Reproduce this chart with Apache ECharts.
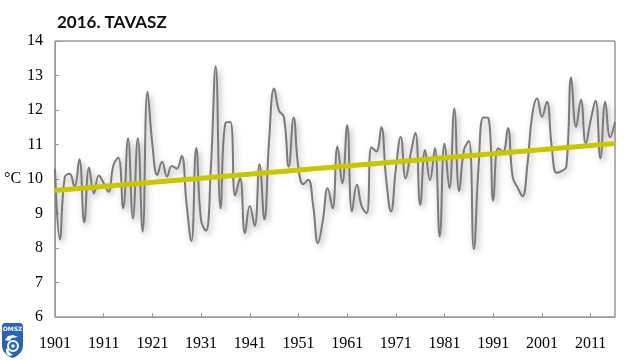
<!DOCTYPE html>
<html>
<head>
<meta charset="utf-8">
<script src="https://cdn.jsdelivr.net/npm/echarts@6/dist/echarts.min.js"></script>
<style>
html,body{margin:0;padding:0;background:#fff;}
#chart{width:640px;height:360px;}
</style>
</head>
<body>
<div id="chart"></div>
<script>
// Years 1901..2016
const firstYear = 1901;
const lastYear = 2016;
// Spring mean temperature (°C)
const temps = [
  10.3, 8.25, 10.05, 10.15, 9.78, 10.57, 8.74, 10.33, 9.58, 10.1,
  9.88, 9.63, 10.4, 10.62, 9.15, 11.18, 8.86, 11.18, 8.48, 12.53,
  11.0, 10.12, 10.5, 10.07, 10.38, 10.3, 10.67, 9.3, 8.2, 10.9,
  8.8, 8.5, 10.3, 13.27, 9.15, 11.62, 11.65, 9.52, 10.03, 8.43,
  9.22, 8.64, 10.43, 8.83, 11.2, 12.62, 11.98, 11.8, 10.36, 11.78,
  10.3, 9.85, 9.98, 9.25, 8.14, 8.8, 9.73, 9.15, 10.94, 9.88,
  11.56, 9.06, 9.83, 9.2, 9.01, 10.92, 10.8, 11.5, 10.0, 9.06,
  10.3, 11.22, 10.02, 10.7, 11.34, 9.25, 10.84, 9.97, 10.89, 8.33,
  11.03, 9.73, 12.04, 9.65, 10.85, 11.1, 7.97, 10.4, 11.78, 11.76,
  9.37, 10.89, 10.8, 11.47, 10.05, 9.75, 9.5, 10.4, 11.85, 12.33,
  11.8, 12.24, 10.95, 10.18, 10.23, 10.35, 12.94, 11.51, 12.3, 11.03,
  11.7, 12.27, 10.6, 12.24, 11.21, 11.65
];
// Linear trend: values at first and last year
const trendEnds = [9.67, 11.03];
// Y ticks
const yMin = 6, yMax = 14, yStep = 1;
const titleText = '2016. TAVASZ';
const unitText = '°C';

const years = [];
for (let y = firstYear; y <= lastYear; y++) years.push(String(y));
const trendData = years.map((_, i) => i === 0 ? trendEnds[0] : (i === years.length - 1 ? trendEnds[1] : null));

// logo shield outline
function shieldPoints(x0, y0) {
  const pts = [];
  const w = 21, h = 35;
  pts.push([x0 + 2, y0], [x0 + w - 2, y0], [x0 + w, y0 + 2], [x0 + w, y0 + 22]);
  for (let k = 1; k <= 8; k++) {
    const t = k / 8;
    const bx = (1 - t) * (1 - t) * (x0 + w) + 2 * (1 - t) * t * (x0 + w) + t * t * (x0 + w / 2);
    const by = (1 - t) * (1 - t) * (y0 + 22) + 2 * (1 - t) * t * (y0 + 31) + t * t * (y0 + h);
    pts.push([bx, by]);
  }
  for (let k = 1; k <= 8; k++) {
    const t = k / 8;
    const bx = (1 - t) * (1 - t) * (x0 + w / 2) + 2 * (1 - t) * t * (x0) + t * t * (x0);
    const by = (1 - t) * (1 - t) * (y0 + h) + 2 * (1 - t) * t * (y0 + 31) + t * t * (y0 + 22);
    pts.push([bx, by]);
  }
  pts.push([x0, y0 + 2]);
  return pts;
}

const chart = echarts.init(document.getElementById('chart'), null, {renderer: 'canvas'});
const serif = '"Liberation Serif", "DejaVu Serif", serif';
chart.setOption({
  animation: false,
  backgroundColor: '#ffffff',
  title: {
    text: titleText,
    left: 57, top: 14, padding: 0,
    textStyle: {fontFamily: 'Lato, "Open Sans", sans-serif', fontWeight: 'bold', fontSize: 17, color: '#111'}
  },
  grid: {left: 55, right: 25, top: 41, bottom: 43, show: true, borderColor: '#666', borderWidth: 1},
  xAxis: {
    type: 'category',
    data: years,
    boundaryGap: false,
    axisLine: {lineStyle: {color: '#999', width: 1}},
    axisTick: {inside: true, length: 4, lineStyle: {color: '#999'}, interval: (i) => i % 10 === 0},
    axisLabel: {interval: (i) => i % 10 === 0, margin: 19, fontFamily: serif, fontSize: 16, color: '#000'},
    splitLine: {show: false}
  },
  yAxis: {
    type: 'value',
    min: yMin, max: yMax, interval: yStep,
    axisLine: {show: true, lineStyle: {color: '#999', width: 1}},
    axisTick: {show: true, inside: true, length: 4, lineStyle: {color: '#999'}},
    axisLabel: {margin: 12, fontFamily: serif, fontSize: 16, color: '#000'},
    splitLine: {show: false}
  },
  series: [
    {
      type: 'line',
      data: temps,
      smooth: 0.45,
      symbol: 'none',
      lineStyle: {color: '#7a7a7a', width: 2, shadowColor: 'rgba(0,0,0,0.35)', shadowBlur: 6, shadowOffsetX: 2, shadowOffsetY: 3},
      z: 2
    },
    {
      type: 'line',
      data: trendData,
      connectNulls: true,
      symbol: 'none',
      lineStyle: {color: '#c8c800', width: 5},
      z: 3
    }
  ],
  graphic: [
    {type: 'text', x: 4, y: 171, style: {text: unitText, font: '16px ' + serif, fill: '#000'}},
    {type: 'polygon', shape: {points: shieldPoints(2, 323)}, style: {fill: '#2a63b5'}},
    {type: 'text', x: 12.5, y: 329, style: {text: 'OMSZ', font: 'bold 6px "DejaVu Sans", sans-serif', fill: '#fff', align: 'center', verticalAlign: 'middle'}},
    {type: 'circle', shape: {cx: 13, cy: 346, r: 5}, style: {fill: 'none', stroke: '#fff', lineWidth: 2}},
    {type: 'circle', shape: {cx: 13, cy: 346, r: 1.8}, style: {fill: '#fff'}},
    {type: 'polygon', shape: {points: [[5, 340], [8, 336], [13, 335], [18, 337], [12, 338], [9, 341]]}, style: {fill: '#fff'}},
    {type: 'polygon', shape: {points: [[6, 349], [6, 353], [9, 356], [13, 355], [9, 352], [8, 348]]}, style: {fill: '#fff'}}
  ]
});
</script>
</body>
</html>
